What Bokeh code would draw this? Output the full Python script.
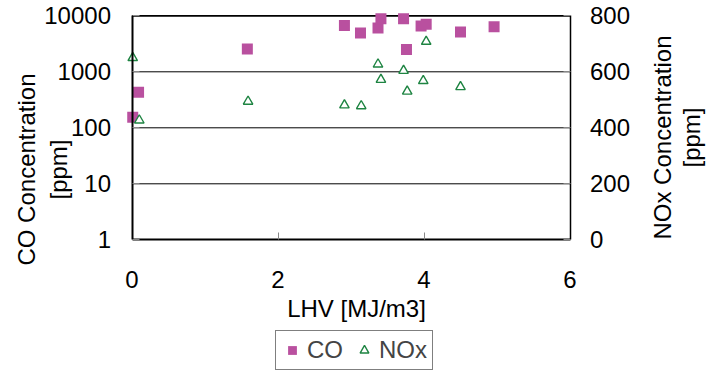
import math
from bokeh.plotting import figure
from bokeh.models import (Range1d, LinearAxis, LogAxis, LinearScale, FixedTicker,
                          PrintfTickFormatter, Legend, LegendItem, Label)
from bokeh.embed import file_html
from bokeh.resources import INLINE

# ---- data ----
co_x = [0.01, 0.09, 1.58, 2.91, 3.13, 3.37, 3.41, 3.72, 3.76, 3.96, 4.03, 4.50, 4.96]
co_y = [155, 430, 2550, 6700, 4950, 6050, 8900, 8900, 2500, 6600, 7050, 5150, 6400]
nox_x = [0.01, 0.10, 1.59, 2.91, 3.14, 3.37, 3.41, 3.72, 3.77, 3.99, 4.03, 4.50]
nox_y = [650, 427, 494, 481, 478, 627, 572, 604, 530, 568, 708, 546]

x_ticks = [0, 2, 4, 6]
co_ticks = [1, 10, 100, 1000, 10000]
nox_ticks = [0, 200, 400, 600, 800]

FONT = "Liberation Sans"
FS = "24px"
CO_COLOR = "#B9509F"
NOX_COLOR = "#1E8442"

# ---- geometry of the plot area on the 706x371 canvas ----
W, H = 706, 371
PX_LEFT, PX_RIGHT = 131.5, 569.5     # x = 0 .. 6
PX_TOP, PX_BOTTOM = 15.3, 239.3      # y = 10000 .. 1  (NOx 800 .. 0)

x0, x1 = x_ticks[0], x_ticks[-1]
xs = (x1 - x0) / (PX_RIGHT - PX_LEFT)
x_range = Range1d(x0 - PX_LEFT * xs, x1 + (W - PX_RIGHT) * xs)

l0, l1 = math.log10(co_ticks[0]), math.log10(co_ticks[-1])
ls = (l1 - l0) / (PX_BOTTOM - PX_TOP)
y_range = Range1d(10 ** (l0 - (H - PX_BOTTOM) * ls), 10 ** (l1 + PX_TOP * ls))

n0, n1 = nox_ticks[0], nox_ticks[-1]
ns = (n1 - n0) / (PX_BOTTOM - PX_TOP)
nox_range = Range1d(n0 - (H - PX_BOTTOM) * ns, n1 + PX_TOP * ns)

p = figure(width=W, height=H, min_border=0,
           x_range=x_range, y_range=y_range, y_axis_type="log",
           x_axis_location=None, y_axis_location=None,
           output_backend="svg", toolbar_location=None)
p.extra_y_ranges = {"nox": nox_range}
p.extra_y_scales = {"nox": LinearScale()}
p.background_fill_color = "white"
p.border_fill_color = "white"
p.outline_line_color = None
p.xgrid.visible = False
p.ygrid.visible = False

# horizontal grid lines and top border of the plot area
p.segment(x0=[x0] * 3, x1=[x1] * 3, y0=co_ticks[1:-1], y1=co_ticks[1:-1],
          line_color="black", line_width=1)
p.segment(x0=[x0], x1=[x1], y0=[co_ticks[-1]], y1=[co_ticks[-1]],
          line_color="black", line_width=1.8)

def style_axis(ax, standoff):
    ax.major_label_text_font = FONT
    ax.major_label_text_font_size = FS
    ax.major_label_text_color = "black"
    ax.major_label_standoff = standoff
    ax.major_tick_in = 7
    ax.major_tick_out = 0
    ax.minor_tick_line_color = None
    ax.major_tick_line_color = "#888888"
    ax.axis_line_color = "black"

# x axis
xa = LinearAxis(fixed_location=co_ticks[0], bounds=(x0, x1),
                ticker=FixedTicker(ticks=x_ticks))
style_axis(xa, 31)
xa.axis_line_width = 2
p.add_layout(xa, "below")

# left log axis
ya = LogAxis(fixed_location=x0, bounds=(co_ticks[0], co_ticks[-1]),
             ticker=FixedTicker(ticks=co_ticks), formatter=PrintfTickFormatter(format="%d"))
style_axis(ya, 21)
ya.axis_line_width = 2
p.add_layout(ya, "left")

# right NOx axis
ra = LinearAxis(y_range_name="nox", fixed_location=x1, bounds=(n0, n1),
                ticker=FixedTicker(ticks=nox_ticks))
style_axis(ra, 20)
ra.axis_line_width = 1.5
p.add_layout(ra, "right")

# markers
r_co = p.scatter(co_x, co_y, marker="square", size=11,
                 fill_color=CO_COLOR, line_color=None)
r_nox = p.scatter(nox_x, nox_y, marker="triangle", size=9.5, y_range_name="nox",
                  fill_color="white", line_color=NOX_COLOR, line_width=1.4)

# axis titles (screen units, origin at canvas bottom-left)
def label(text, x, y, angle=0.0):
    p.add_layout(Label(x=x, y=y, x_units="screen", y_units="screen", text=text,
                       angle=angle, text_align="center", text_baseline="middle",
                       text_font=FONT, text_font_size=FS, text_color="black"))

label("LHV [MJ/m3]", 356, H - 308)
label("CO Concentration", 26, H - 169, math.pi / 2)
label("[ppm]", 58, H - 169, math.pi / 2)
label("NOx Concentration", 662, H - 137, math.pi / 2)
label("[ppm]", 691, H - 137, math.pi / 2)

legend = Legend(items=[LegendItem(label="CO", renderers=[r_co]),
                       LegendItem(label="NOx", renderers=[r_nox])],
                orientation="horizontal", location=(275, 1),
                label_text_font=FONT, label_text_font_size=FS,
                border_line_color="black", border_line_width=1,
                background_fill_color="white", background_fill_alpha=1,
                padding=5, spacing=10, label_standoff=4,
                glyph_width=22, glyph_height=22, margin=0)
p.add_layout(legend)

open("out.html", "w").write(file_html(p, INLINE))
